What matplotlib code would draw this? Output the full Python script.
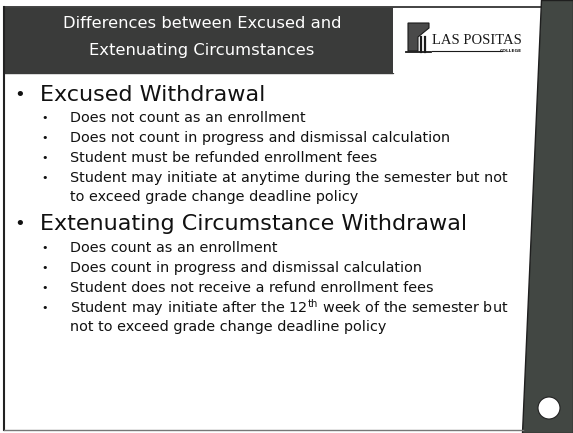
import matplotlib
matplotlib.use("Agg")
import matplotlib.pyplot as plt
from matplotlib.patches import Rectangle, Polygon, Circle

# slide content
title_lines = ["Differences between Excused and", "Extenuating Circumstances"]

main_items = ["Excused Withdrawal", "Extenuating Circumstance Withdrawal"]

excused_sub = [
    "Does not count as an enrollment",
    "Does not count in progress and dismissal calculation",
    "Student must be refunded enrollment fees",
    "Student may initiate at anytime during the semester but not\nto exceed grade change deadline policy",
]

extenuating_sub = [
    "Does count as an enrollment",
    "Does count in progress and dismissal calculation",
    "Student does not receive a refund enrollment fees",
    "Student may initiate after the 12$^{\\mathrm{th}}$ week of the semester but\nnot to exceed grade change deadline policy",
]

logo_name = "LAS POSITAS"
logo_sub = "COLLEGE"

W, H = 573, 433
fig = plt.figure(figsize=(W / 100, H / 100), dpi=100)
ax = fig.add_axes([0, 0, 1, 1])
ax.set_xlim(0, W)
ax.set_ylim(H, 0)
ax.axis("off")

dark = "#3a3b3a"
strip = "#424743"

# dark header and logo box
ax.add_patch(Rectangle((4, 8), 389, 65, color=dark, zorder=1))
ax.add_patch(Rectangle((393, 8), 148, 65, facecolor="white", edgecolor="none", zorder=1))
ax.plot([4, 541], [7, 7], color="#222222", lw=1.2, zorder=2)

# right strip
ax.add_patch(Polygon([(541, 0), (W, 0), (W, H), (522, H)], closed=True,
                     facecolor=strip, edgecolor="#1f1f1f", lw=1.0, zorder=2))
ax.add_patch(Circle((549, 408), 11, facecolor="white", edgecolor="#222222", lw=0.8, zorder=3))

# slide borders
ax.plot([4, 4], [7, 430], color="#222222", lw=1.5, zorder=2)
ax.plot([4, 523], [430, 430], color="#777777", lw=1.0, zorder=2)

# title
for i, line in enumerate(title_lines):
    ax.text(202, 23 + i * 28, line, color="white", fontsize=11.8,
            ha="center", va="center", family="DejaVu Sans", zorder=3)

# logo
icon = Polygon([(408, 23), (429, 23), (429, 28), (418, 37), (418, 51), (408, 51)],
               closed=True, facecolor="#4a4a4a", edgecolor="#1a1a1a", lw=0.8, zorder=3)
ax.add_patch(icon)
for x in (421, 425):
    ax.plot([x, x], [37, 52], color="#1a1a1a", lw=1.6, zorder=3)
ax.plot([406, 431], [52, 52], color="#1a1a1a", lw=1.3, zorder=3)
ax.text(432, 41, logo_name, fontsize=10.5, family="Liberation Serif",
        ha="left", va="center", color="#1a1a1a", zorder=3)
ax.plot([432, 502], [51, 51], color="#1a1a1a", lw=0.8, zorder=3)
ax.text(522, 51.5, logo_sub, fontsize=3.2, family="DejaVu Sans", weight="bold",
        ha="right", va="center", color="#1a1a1a", zorder=3)

# body text
main_y = [95, 224]
sub_y = [[118, 138, 158, 178], [248, 268, 288, 308]]
subs = [excused_sub, extenuating_sub]
line_gap = 19

for k, head in enumerate(main_items):
    ax.text(20, main_y[k], "\u2022", fontsize=13, ha="center", va="center", color="#111111")
    ax.text(40, main_y[k], head, fontsize=16, ha="left", va="center", color="#111111")
    for j, item in enumerate(subs[k]):
        ax.text(45, sub_y[k][j], "\u2022", fontsize=8, ha="center", va="center", color="#111111")
        for m, part in enumerate(item.split("\n")):
            ax.text(70, sub_y[k][j] + m * line_gap, part, fontsize=10.4,
                    ha="left", va="center", color="#111111")

fig.savefig("out.png", dpi=100)
